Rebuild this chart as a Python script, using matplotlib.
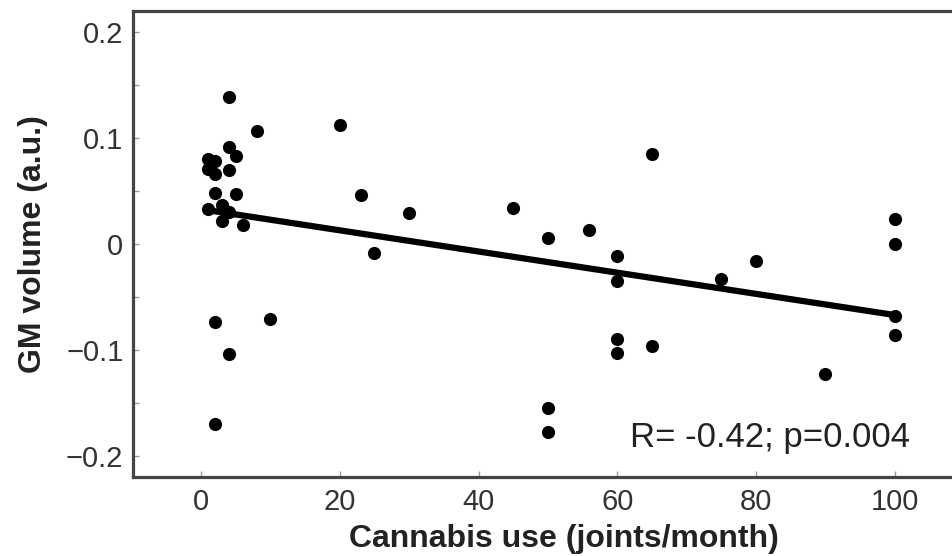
import numpy as np
import matplotlib
matplotlib.use('Agg')
import matplotlib.pyplot as plt
from matplotlib.ticker import MultipleLocator

# joints/month vs GM volume (a.u.)
joints = [4, 8, 20, 23, 30, 25, 45, 50, 56, 60, 60, 60, 60, 65, 65, 50, 50,
          75, 80, 90, 100, 100, 100, 100, 10, 2, 4, 2,
          1, 1, 2, 4, 4, 5, 2,
          2, 5, 1, 3, 3, 4, 6]
gm_volume = [0.139, 0.107, 0.112, 0.046, 0.029, -0.008, 0.034, 0.006, 0.013,
             -0.011, -0.035, -0.090, -0.103, 0.085, -0.096, -0.155, -0.177,
             -0.033, -0.016, -0.123, 0.024, 0.000, -0.068, -0.086,
             -0.071, -0.074, -0.104, -0.170,
             0.080, 0.071, 0.066, 0.070, 0.092, 0.083, 0.078,
             0.048, 0.047, 0.033, 0.037, 0.022, 0.030, 0.018]

# regression line endpoints
fit_x = [1, 100]
fit_y = [0.032, -0.067]

stats_text = "R= -0.42; p=0.004"

plt.rcParams['font.family'] = ['Liberation Sans', 'DejaVu Sans']

fig = plt.figure(figsize=(9.53, 5.56), dpi=100)
# axes runs off the right edge of the picture, like the cropped original
ax = fig.add_axes([0.1396, 0.142, 0.8604, 0.838])

ax.scatter(joints, gm_volume, s=90, color='black', zorder=3, linewidths=0)
ax.plot(fit_x, fit_y, color='black', linewidth=4.5, solid_capstyle='butt', zorder=2)

ax.set_xlim(-9.8, 108.4)
ax.set_ylim(-0.22, 0.22)
ax.set_xticks([0, 20, 40, 60, 80, 100])
ax.set_yticks([-0.2, -0.1, 0, 0.1, 0.2])
ax.set_yticklabels(['\u22120.2', '\u22120.1', '0', '0.1', '0.2'])
ax.yaxis.set_minor_locator(MultipleLocator(0.05))
ax.tick_params(axis='both', which='both', direction='in', labelsize=21,
               colors='#999999', labelcolor='#333333')
ax.tick_params(axis='y', which='both', length=4, width=1, pad=7)
ax.tick_params(axis='x', length=4, width=1, pad=8)

for sp in ax.spines.values():
    sp.set_linewidth(2.3)
    sp.set_color('#444444')
ax.spines['right'].set_visible(False)

ax.set_xlabel('Cannabis use (joints/month)', fontsize=23, fontweight='bold', color='#222222')
ax.xaxis.set_label_coords(0.5256, -0.1)
ax.set_ylabel('GM volume (a.u.)', fontsize=23, fontweight='bold', color='#222222')
ax.yaxis.set_label_coords(-0.104, 0.5)

ax.text(0.9476, 0.064, stats_text, transform=ax.transAxes, ha='right', va='baseline',
        fontsize=25, color='#222222')

fig.savefig('out.png', dpi=100, facecolor='white')
